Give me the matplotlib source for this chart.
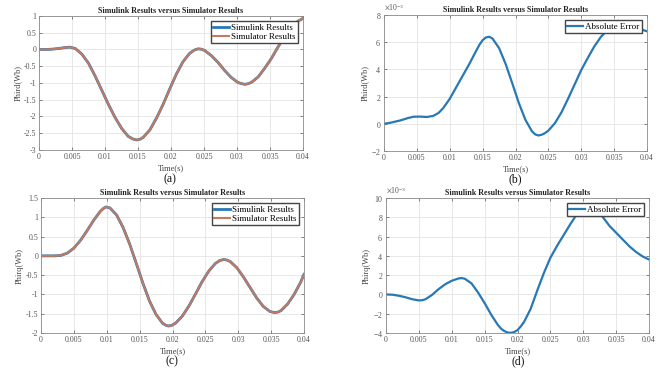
import matplotlib
matplotlib.use("Agg")
import matplotlib.pyplot as plt
from matplotlib.ticker import ScalarFormatter

# time samples (s) and values
t_a = [0, 0.001, 0.002, 0.003, 0.004, 0.0047, 0.0055, 0.0065, 0.0075, 0.0085,
       0.0095, 0.0105, 0.0115, 0.0125, 0.0135, 0.0142, 0.0148, 0.0153, 0.0158,
       0.0168, 0.0178, 0.0188, 0.0198, 0.0208, 0.0218, 0.0228, 0.0235, 0.0241,
       0.0246, 0.0251, 0.0261, 0.0271, 0.0281, 0.0291, 0.0301, 0.0307, 0.0312,
       0.0317, 0.0322, 0.0332, 0.0342, 0.0352, 0.0362, 0.0372, 0.0382, 0.0392,
       0.04]
phid = [0, 0.0, 0.01, 0.03, 0.06, 0.07, 0.03, -0.14, -0.41, -0.79,
        -1.21, -1.63, -2.02, -2.35, -2.59, -2.67, -2.7, -2.68, -2.62,
        -2.40, -2.05, -1.64, -1.18, -0.74, -0.37, -0.12, -0.02, 0.02,
        0.01, -0.03, -0.18, -0.38, -0.62, -0.83, -0.98, -1.02, -1.04,
        -1.02, -0.98, -0.82, -0.56, -0.27, 0.07, 0.39, 0.65, 0.84,
        0.93]

t_b = [0, 0.001, 0.0025, 0.0037, 0.0045, 0.0055, 0.0065, 0.0075, 0.0083, 0.009,
       0.01, 0.011, 0.012, 0.013, 0.014, 0.0145, 0.015, 0.0155, 0.016, 0.0165,
       0.0175, 0.0185, 0.0195, 0.0205, 0.0215, 0.0225, 0.023, 0.0235, 0.024,
       0.0245, 0.025, 0.026, 0.027, 0.028, 0.029, 0.03, 0.031, 0.032, 0.033,
       0.034, 0.035, 0.036, 0.037, 0.038, 0.039, 0.0395, 0.04]
err_d = [0, 0.08, 0.25, 0.43, 0.52, 0.53, 0.5, 0.58, 0.8, 1.15,
         1.84, 2.7, 3.56, 4.42, 5.35, 5.8, 6.15, 6.35, 6.4, 6.27,
         5.57, 4.4, 2.99, 1.54, 0.3, -0.55, -0.78, -0.86, -0.8,
         -0.68, -0.5, 0.05, 0.85, 1.85, 2.9, 3.95, 4.85, 5.7, 6.4,
         6.9, 7.15, 7.25, 7.2, 7.1, 6.95, 6.88, 6.8]

t_c = [0, 0.001, 0.002, 0.003, 0.004, 0.005, 0.006, 0.007, 0.008, 0.009,
       0.0095, 0.0099, 0.0105, 0.0115, 0.0125, 0.0135, 0.0145, 0.0155, 0.0165,
       0.0175, 0.0185, 0.019, 0.0194, 0.0199, 0.0205, 0.0215, 0.0225, 0.0235,
       0.0245, 0.0255, 0.0265, 0.0272, 0.0278, 0.0283, 0.0288, 0.0298, 0.0308,
       0.0318, 0.0328, 0.0338, 0.0348, 0.0355, 0.036, 0.0365, 0.0375, 0.0385,
       0.0395, 0.04]
phiq = [0, 0, 0.0, 0.01, 0.07, 0.2, 0.4, 0.65, 0.92, 1.15,
        1.23, 1.27, 1.24, 1.06, 0.73, 0.30, -0.20, -0.71, -1.17,
        -1.52, -1.75, -1.8, -1.82, -1.8, -1.74, -1.56, -1.30, -0.99,
        -0.67, -0.40, -0.20, -0.12, -0.095, -0.11, -0.15, -0.31, -0.55,
        -0.82, -1.09, -1.31, -1.44, -1.47, -1.46, -1.42, -1.25, -1.0,
        -0.68, -0.48]

t_d = [0, 0.001, 0.002, 0.003, 0.004, 0.005, 0.0055, 0.006, 0.007, 0.008,
       0.009, 0.01, 0.011, 0.0115, 0.012, 0.013, 0.014, 0.015, 0.016, 0.017,
       0.0175, 0.018, 0.0185, 0.019, 0.0195, 0.02, 0.0205, 0.021, 0.022, 0.023,
       0.024, 0.025, 0.026, 0.027, 0.028, 0.029, 0.03, 0.031, 0.032, 0.033,
       0.034, 0.035, 0.036, 0.037, 0.038, 0.039, 0.04]
err_q = [0, -0.03, -0.14, -0.3, -0.5, -0.62, -0.6, -0.5, -0.05, 0.55,
         1.05, 1.42, 1.65, 1.7, 1.62, 1.15, 0.2, -0.9, -2.1, -3.15,
         -3.55, -3.8, -3.95, -3.98, -3.9, -3.7, -3.32, -2.85, -1.5, 0.4,
         2.2, 3.8, 5.02, 6.13, 7.25, 8.3, 8.9, 9.05, 8.75, 8.0,
         7.1, 6.4, 5.7, 5.0, 4.42, 3.95, 3.62]

xticks = [0, 0.005, 0.01, 0.015, 0.02, 0.025, 0.03, 0.035, 0.04]
xticklabels = ['0', '0.005', '0.01', '0.015', '0.02', '0.025', '0.03', '0.035', '0.04']

blue = '#2878B5'
orange = '#C27A60'
title = 'Simulink Results versus Simulator Results'

plt.rcParams['font.family'] = ['Liberation Serif', 'DejaVu Serif']
plt.rcParams['mathtext.fontset'] = 'stix'
plt.rcParams['axes.unicode_minus'] = False

fig = plt.figure(figsize=(6.63, 3.71), dpi=100)
W, H = 663.0, 371.0


def make_axes(left, top, right, bottom):
    return fig.add_axes([left / W, 1 - bottom / H, (right - left) / W, (bottom - top) / H])


def style(ax, ylim, yticks, ylabel):
    ax.set_xlim(0, 0.04)
    ax.set_ylim(*ylim)
    ax.set_xticks(xticks)
    ax.set_xticklabels(xticklabels)
    ax.set_yticks(yticks)
    ax.grid(True, color='#E4E4E4', lw=0.6)
    ax.set_axisbelow(True)
    ax.tick_params(direction='in', length=2, width=0.5, colors='#555555',
                   labelsize=5.7, pad=2, top=True, right=True,
                   labeltop=False, labelright=False)
    for s in ax.spines.values():
        s.set_color('#8A8A8A')
        s.set_linewidth(0.6)
    ax.set_title(title, fontsize=5.8, fontweight='bold', pad=2.5, color='#222222')
    ax.set_xlabel('Time(s)', fontsize=6, labelpad=2.5, color='#444444')
    ax.set_ylabel(ylabel, fontsize=6, labelpad=1.5, color='#444444')


def sci_axis(ax):
    fmt = ScalarFormatter(useMathText=True)
    fmt.set_powerlimits((-3, -3))
    ax.yaxis.set_major_formatter(fmt)
    ax.yaxis.get_offset_text().set_fontsize(5.5)
    ax.yaxis.get_offset_text().set_color('#555555')


def add_legend(ax):
    ax.legend(loc='upper right', fontsize=6.5, fancybox=False, edgecolor='#444444',
              framealpha=1, handlelength=1.8, handletextpad=0.2, borderpad=0.25,
              labelspacing=0.1, borderaxespad=0.6)


# (a)
ax = make_axes(39, 16, 303, 150)
ax.plot(t_a, phid, color=blue, lw=2.0, label='Simulink Results')
ax.plot(t_a, phid, color=orange, lw=1.5, label='Simulator Results')
style(ax, (-3, 1), [-3, -2.5, -2, -1.5, -1, -0.5, 0, 0.5, 1], 'Phird(Wb)')
ax.set_yticklabels(['-3', '-2.5', '-2', '-1.5', '-1', '-0.5', '0', '0.5', '1'])
add_legend(ax)

# (b)
ax = make_axes(384, 15, 647, 151)
ax.plot(t_b, [v * 1e-3 for v in err_d], color=blue, lw=1.6, label='Absolute Error')
style(ax, (-2e-3, 8e-3), [-2e-3, 0, 2e-3, 4e-3, 6e-3, 8e-3], 'Phird(Wb)')
sci_axis(ax)
add_legend(ax)

# (c)
ax = make_axes(41, 198, 304, 333)
ax.plot(t_c, phiq, color=blue, lw=2.0, label='Simulink Results')
ax.plot(t_c, phiq, color=orange, lw=1.5, label='Simulator Results')
style(ax, (-2, 1.5), [-2, -1.5, -1, -0.5, 0, 0.5, 1, 1.5], 'Phirq(Wb)')
ax.set_yticklabels(['-2', '-1.5', '-1', '-0.5', '0', '0.5', '1', '1.5'])
add_legend(ax)

# (d)
ax = make_axes(386, 198, 649, 333)
ax.plot(t_d, [v * 1e-3 for v in err_q], color=blue, lw=1.6, label='Absolute Error')
style(ax, (-4e-3, 10e-3), [-4e-3, -2e-3, 0, 2e-3, 4e-3, 6e-3, 8e-3, 10e-3], 'Phirq(Wb)')
sci_axis(ax)
add_legend(ax)

for lab, x, y in [('(a)', 170, 179), ('(b)', 515, 179), ('(c)', 172, 361), ('(d)', 518, 361)]:
    fig.text(x / W, 1 - y / H, lab, ha='center', va='center', fontsize=8.5, color='#111111')

fig.savefig('out.png', dpi=100)
